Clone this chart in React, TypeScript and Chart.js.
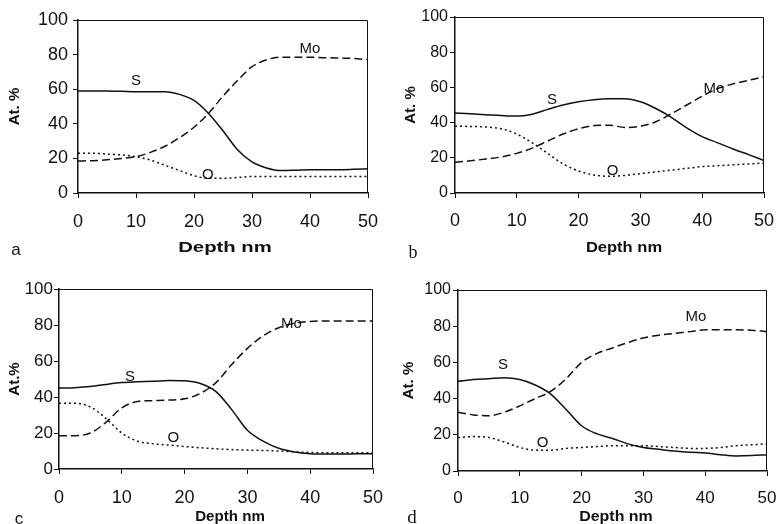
import React, { useEffect, useRef } from 'react';
import { Chart, registerables } from 'chart.js';

Chart.register(...registerables);

// Depth (nm) sample points shared by all panels
const DEPTH = [0, 2.5, 5, 7.5, 10, 12.5, 15, 17.5, 20, 22.5, 25, 27.5, 30, 32.5, 35, 37.5, 40, 42.5, 45, 47.5, 50];

// Panel a
const A_S = [59, 59, 59, 58.8, 58.5, 58.5, 58.5, 57, 53.5, 46, 36, 25, 18, 14.5, 13, 13.2, 13.5, 13.5, 13.5, 13.7, 14];
const A_MO = [18.5, 18.7, 19.2, 20, 21, 23.5, 27, 32, 38, 46, 56, 65, 73, 77, 78.5, 78.5, 78.5, 78.2, 78, 77.8, 77];
const A_O = [23, 23, 22.5, 22, 21, 19, 16, 13, 10, 8.5, 8.5, 9, 9.5, 9.5, 9.5, 9.5, 9.5, 9.5, 9.5, 9.5, 9.5];

// Panel b
const B_S = [45.5, 45, 44.5, 44, 43.7, 44.8, 47.5, 50, 51.8, 53, 53.5, 53.5, 51.8, 48, 43, 37, 32, 28.5, 25, 21.8, 18.5];
const B_MO = [17.5, 18.3, 19.3, 20.5, 22.5, 25.5, 29.5, 33.5, 36.5, 38.3, 38.5, 37.2, 38, 40.5, 45, 50, 55, 59.3, 62, 64, 66];
const B_O = [38, 37.8, 37.5, 36.5, 33.5, 28.5, 22.5, 16.5, 12.5, 10.2, 9.5, 10, 11, 12, 13, 14, 15, 15.5, 16, 16.5, 17];

// Panel c
const C_S = [45, 45.2, 45.8, 47, 48, 48.5, 48.7, 49.2, 49, 47.5, 43, 33, 21.5, 15.5, 11.5, 9.5, 8.5, 8.3, 8.3, 8.5, 8.5];
const C_MO = [18.5, 18.5, 20, 26, 34, 37.5, 38, 38.3, 39, 42, 48, 58, 67, 74, 78.5, 81, 82, 82.2, 82.2, 82.2, 82.2];
const C_O = [36.5, 36.5, 34.5, 28, 20, 15.5, 14, 13.3, 12.5, 11.8, 11.2, 10.8, 10.5, 10.3, 10, 9.5, 9.2, 9, 9, 9, 9];

// Panel d
const D_S = [49.5, 50.5, 51, 51.5, 50.5, 47.5, 42.5, 34, 25, 20.5, 18, 15, 13, 12, 11, 10.3, 10, 9, 8.3, 8.5, 9];
const D_MO = [32.5, 31, 30.5, 32.5, 36, 40, 44, 51, 60, 65, 68, 71, 73.5, 75, 76, 77, 78, 78, 78, 77.8, 77];
const D_O = [18.5, 19, 18.5, 16, 13, 11.5, 11.5, 12.5, 13, 13.5, 14, 14, 14, 13.5, 13, 12.5, 12.5, 13, 14, 14.5, 15];

const SERIES_NAMES = ['S', 'Mo', 'O'];
const Y_TICKS = { min: 0, max: 100, step: 20 };
const X_TICKS = { min: 0, max: 50, step: 10 };

const SANS = '"Liberation Sans", Arial, Helvetica, sans-serif';
const SERIF = '"Liberation Serif", "Times New Roman", serif';
const W = 776;
const H = 524;
const X_AXIS_H = 40;

type Panel = {
  s: number[]; mo: number[]; o: number[];
  area: { l: number; r: number; t: number; b: number };
  yTitle: string; yTitleX: number;
  yTickSize: number; yTickPad: number;
  xTickSize: number; xTickPad: number;
  xTitle: { x: number; y: number; sx: number };
  letter: { text: string; x: number; y: number; font: string };
  labels: { text: string; x: number; y: number }[];
};

const PANELS: Panel[] = [
  {
    s: A_S, mo: A_MO, o: A_O,
    area: { l: 78, r: 368, t: 20, b: 193 },
    yTitle: 'At. %', yTitleX: 15, yTickSize: 18, yTickPad: 5, xTickSize: 18, xTickPad: 13,
    xTitle: { x: 225, y: 248, sx: 1.45 },
    letter: { text: 'a', x: 16, y: 250, font: `17px ${SANS}` },
    labels: [
      { text: 'S', x: 10, y: 65 },
      { text: 'Mo', x: 40, y: 83.6 },
      { text: 'O', x: 22.4, y: 10.6 },
    ],
  },
  {
    s: B_S, mo: B_MO, o: B_O,
    area: { l: 455, r: 764, t: 17, b: 193 },
    yTitle: 'At. %', yTitleX: 411, yTickSize: 16, yTickPad: 2, xTickSize: 18, xTickPad: 12,
    xTitle: { x: 624, y: 248, sx: 1.18 },
    letter: { text: 'b', x: 413, y: 253, font: `18px ${SERIF}` },
    labels: [
      { text: 'S', x: 15.7, y: 53.2 },
      { text: 'Mo', x: 41.9, y: 58.9 },
      { text: 'O', x: 25.5, y: 12.8 },
    ],
  },
  {
    s: C_S, mo: C_MO, o: C_O,
    area: { l: 59, r: 373, t: 289, b: 469 },
    yTitle: 'At.%', yTitleX: 15, yTickSize: 17, yTickPad: 1, xTickSize: 18, xTickPad: 13,
    xTitle: { x: 230, y: 517, sx: 1.08 },
    letter: { text: 'c', x: 19, y: 519, font: `17px ${SANS}` },
    labels: [
      { text: 'S', x: 11.3, y: 51.3 },
      { text: 'Mo', x: 37, y: 80.4 },
      { text: 'O', x: 18.2, y: 17.4 },
    ],
  },
  {
    s: D_S, mo: D_MO, o: D_O,
    area: { l: 458, r: 767, t: 290, b: 471 },
    yTitle: 'At. %', yTitleX: 409, yTickSize: 16, yTickPad: 2, xTickSize: 17, xTickPad: 12,
    xTitle: { x: 616, y: 517, sx: 1.14 },
    letter: { text: 'd', x: 412, y: 518, font: `19px ${SERIF}` },
    labels: [
      { text: 'S', x: 7.3, y: 58.9 },
      { text: 'Mo', x: 38.5, y: 85.3 },
      { text: 'O', x: 13.7, y: 15.7 },
    ],
  },
];

function makePlugin(p: Panel) {
  return {
    id: 'panelDecor',
    afterDraw(chart: any) {
      const { ctx, chartArea: a, scales } = chart;
      ctx.save();
      // top & right frame
      ctx.strokeStyle = '#111';
      ctx.lineWidth = 1;
      ctx.beginPath();
      ctx.moveTo(a.left, Math.round(a.top) + 0.5);
      ctx.lineTo(Math.round(a.right) - 0.5, Math.round(a.top) + 0.5);
      ctx.lineTo(Math.round(a.right) - 0.5, a.bottom);
      ctx.stroke();

      ctx.fillStyle = '#111';
      ctx.textAlign = 'center';
      ctx.textBaseline = 'middle';
      // curve labels (data coordinates)
      ctx.font = `15px ${SANS}`;
      for (const l of p.labels) {
        ctx.fillText(l.text, scales.x.getPixelForValue(l.x), scales.y.getPixelForValue(l.y));
      }
      // x title
      ctx.font = `bold 14px ${SANS}`;
      ctx.save();
      ctx.translate(p.xTitle.x, p.xTitle.y);
      ctx.scale(p.xTitle.sx, 1);
      ctx.fillText('Depth nm', 0, 0);
      ctx.restore();
      // panel letter
      ctx.font = p.letter.font;
      ctx.fillText(p.letter.text, p.letter.x, p.letter.y);
      ctx.restore();
    },
  };
}

function makeConfig(p: Panel): any {
  const pts = (vals: number[]) => DEPTH.map((d, i) => ({ x: d, y: vals[i] }));
  const common = {
    borderColor: '#111',
    borderWidth: 1.5,
    pointRadius: 0,
    pointHoverRadius: 0,
    fill: false,
    cubicInterpolationMode: 'monotone',
  };
  const yW = p.area.l - (p.yTitleX - 9);
  return {
    type: 'line',
    data: {
      datasets: [
        { ...common, label: SERIES_NAMES[0], data: pts(p.s) },
        { ...common, label: SERIES_NAMES[1], data: pts(p.mo), borderDash: [8, 4] },
        { ...common, label: SERIES_NAMES[2], data: pts(p.o), borderDash: [2, 3] },
      ],
    },
    options: {
      animation: false,
      responsive: false,
      maintainAspectRatio: false,
      devicePixelRatio: 1,
      events: [],
      layout: {
        padding: {
          left: p.yTitleX - 9,
          right: W - p.area.r,
          top: p.area.t,
          bottom: H - p.area.b - X_AXIS_H,
        },
      },
      plugins: { legend: { display: false }, tooltip: { enabled: false }, title: { display: false } },
      scales: {
        x: {
          type: 'linear',
          min: X_TICKS.min,
          max: X_TICKS.max,
          afterFit: (s: any) => { s.height = X_AXIS_H; s.paddingLeft = 0; s.paddingRight = 0; },
          ticks: {
            stepSize: X_TICKS.step,
            color: '#111',
            padding: p.xTickPad,
            maxRotation: 0,
            font: { family: SANS, size: p.xTickSize },
          },
          grid: { display: true, drawOnChartArea: false, drawTicks: true, tickLength: 5, color: '#111', lineWidth: 1 },
          border: { display: true, color: '#111', width: 1.5 },
        },
        y: {
          type: 'linear',
          min: Y_TICKS.min,
          max: Y_TICKS.max,
          afterFit: (s: any) => { s.width = yW; s.paddingTop = 0; s.paddingBottom = 0; },
          ticks: {
            stepSize: Y_TICKS.step,
            color: '#111',
            padding: p.yTickPad,
            font: { family: SANS, size: p.yTickSize },
          },
          title: {
            display: true,
            text: p.yTitle,
            color: '#111',
            padding: 0,
            font: { family: SANS, size: 15, weight: 'bold' },
          },
          grid: { display: true, drawOnChartArea: false, drawTicks: true, tickLength: 5, color: '#111', lineWidth: 1 },
          border: { display: true, color: '#111', width: 1.5 },
        },
      },
    },
    plugins: [makePlugin(p)],
  };
}

function PanelCanvas({ p }: { p: Panel }) {
  const ref = useRef<HTMLCanvasElement | null>(null);
  useEffect(() => {
    if (!ref.current) return;
    const chart = new Chart(ref.current, makeConfig(p));
    return () => chart.destroy();
  }, [p]);
  return (
    <canvas
      ref={ref}
      width={W}
      height={H}
      style={{ position: 'absolute', left: 0, top: 0, width: W, height: H }}
    />
  );
}

export default function App() {
  return (
    <div style={{ position: 'fixed', left: 0, top: 0, width: W, height: H, background: '#fff', overflow: 'hidden' }}>
      {PANELS.map((p, i) => (
        <PanelCanvas key={i} p={p} />
      ))}
    </div>
  );
}
